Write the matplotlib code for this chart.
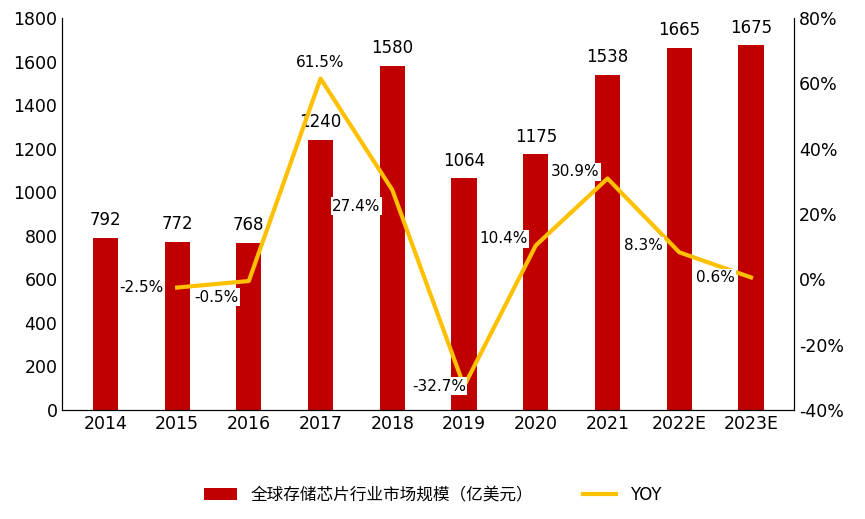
import matplotlib
matplotlib.use('Agg')
import matplotlib.pyplot as plt

plt.rcParams['font.family'] = ['DejaVu Sans', 'Noto Sans CJK SC']

years = ['2014', '2015', '2016', '2017', '2018', '2019', '2020', '2021', '2022E', '2023E']
market = [792, 772, 768, 1240, 1580, 1064, 1175, 1538, 1665, 1675]
yoy = [None, -2.5, -0.5, 61.5, 27.4, -32.7, 10.4, 30.9, 8.3, 0.6]

fig, ax = plt.subplots(figsize=(8.65, 5.19), dpi=100)
fig.subplots_adjust(left=0.072, right=0.918, top=0.965, bottom=0.21)
x = list(range(len(years)))
bars = ax.bar(x, market, width=0.35, color='#C00000', label='全球存储芯片行业市场规模（亿美元）')
for xi, v in zip(x, market):
    ax.text(xi, v + 40, str(v), ha='center', va='bottom', fontsize=12)
ax.set_ylim(0, 1800)
ax.set_yticks(range(0, 1801, 200))
ax.set_xlim(-0.6, len(years) - 0.4)
ax.set_xticks(x)
ax.set_xticklabels(years)
ax.tick_params(labelsize=12.5, length=0)
ax.spines['top'].set_visible(False)

ax2 = ax.twinx()
lx = x[1:]
ly = yoy[1:]
line, = ax2.plot(lx, ly, color='#FFC000', lw=3, label='YOY')
ax2.set_ylim(-40, 80)
ax2.set_yticks(range(-40, 81, 20))
ax2.set_yticklabels([f'{t}%' for t in range(-40, 81, 20)])
ax2.tick_params(labelsize=12.5, length=0)
ax2.spines['top'].set_visible(False)

offsets = {1: (-0.5, 0), 2: (-0.45, -5), 3: (0, 5), 4: (-0.5, -5),
           5: (-0.35, 0), 6: (-0.45, 2), 7: (-0.45, 2), 8: (-0.5, 2), 9: (-0.5, 0)}
for xi, v in zip(lx, ly):
    dx, dy = offsets[xi]
    ax2.text(xi + dx, v + dy, f'{v}%', ha='center', va='center', fontsize=11,
             bbox=dict(facecolor='white', edgecolor='none', pad=1))

fig.legend([bars, line], ['全球存储芯片行业市场规模（亿美元）', 'YOY'], loc='lower center',
           ncol=2, frameon=False, fontsize=12, bbox_to_anchor=(0.5, 0.0), columnspacing=3)
fig.savefig('out.png')
